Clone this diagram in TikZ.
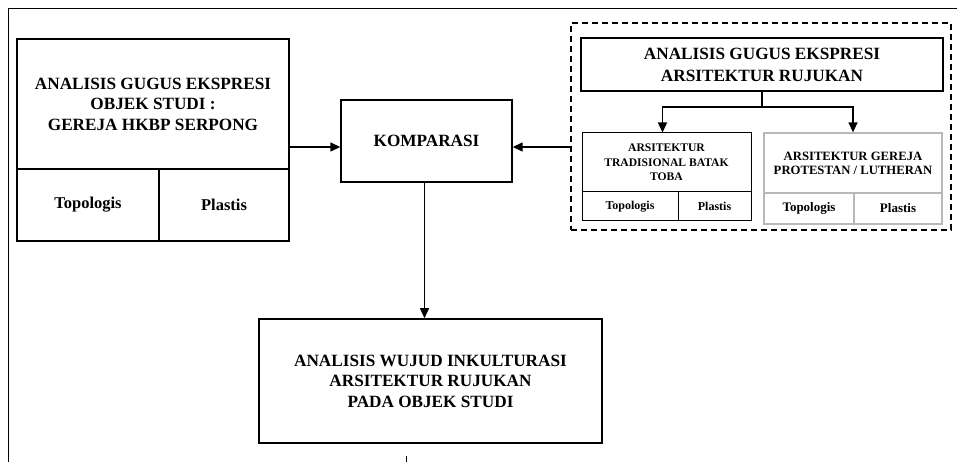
\documentclass[tikz,border=0pt]{standalone}
\usepackage{fontspec}
\setmainfont{Liberation Serif}
\usetikzlibrary{arrows.meta, positioning}

\tikzset{
	box/.style = {draw, line width = 1.6pt, inner sep = 0pt, align = center, font = \bfseries\fontsize{17.2}{20.5}\selectfont},
	cell/.style = {box, line width = 1.4pt, font = \bfseries\fontsize{16.5}{20}\selectfont},
	subcell/.style = {draw, line width = 1pt, inner sep = 0pt, align = center, font = \bfseries\fontsize{12}{14.5}\selectfont},
	grey/.style = {subcell, draw = black!28, line width = 1.3pt, font = \bfseries\fontsize{13}{14}\selectfont},
	arr/.style = {line width = 1.4pt, -{Triangle[length = 10pt, width = 9pt]}}
}

\begin{document}
\begin{tikzpicture}[x = 1pt, y = -1pt]
			\useasboundingbox (0,0) rectangle (957,462);

			% frame of the page
			\draw[line width = 1pt] (957,9) -- (8,9) -- (8,462);
			\draw[line width = 1pt] (406,456) -- (406,462);

			% objek studi
			\begin{scope}
				\node[box, minimum width = 272pt, minimum height = 130pt] (objek) at (153,104)
					{ANALISIS GUGUS EKSPRESI\\OBJEK STUDI :\\GEREJA HKBP SERPONG};
				\node[cell, minimum width = 142pt, minimum height = 72pt] (objekTop) at (88,205) {Topologis};
				\node[cell, minimum width = 130pt, minimum height = 72pt] (objekPla) at (224,205) {Plastis};
			\end{scope}

			% komparasi
			\node[box, line width = 1.4pt, minimum width = 171pt, minimum height = 82pt] (komparasi) at (426.5,141) {KOMPARASI};
			\coordinate (kin) at ([yshift = -6pt]komparasi.west);
			\coordinate (kout) at ([yshift = -6pt]komparasi.east);

			% arsitektur rujukan
			\begin{scope}
				\node[draw, dashed, dash pattern = on 6pt off 4pt, line width = 1.4pt,
					minimum width = 380pt, minimum height = 207pt] (ruj) at (761,126.5) {};
				\node[box, line width = 2.2pt, font = \bfseries\fontsize{17.2}{22}\selectfont,
					minimum width = 362pt, minimum height = 53pt] (rujHead) at (762,64.5)
					{ANALISIS GUGUS EKSPRESI\\ARSITEKTUR RUJUKAN};

				\node[subcell, minimum width = 169pt, minimum height = 59pt, font = \bfseries\fontsize{11.6}{14.5}\selectfont] (batak) at (666.5,162.5)
					{ARSITEKTUR\\TRADISIONAL BATAK\\TOBA};
				\node[subcell, minimum width = 96pt, minimum height = 29pt] (batakTop) at (630,206.5) {Topologis};
				\node[subcell, minimum width = 73pt, minimum height = 29pt] (batakPla) at (714.5,206.5) {Plastis};

				\node[grey, font = \bfseries\fontsize{12.7}{14}\selectfont, minimum width = 178pt, minimum height = 60pt] (gereja) at (853,163)
					{ARSITEKTUR GEREJA\\PROTESTAN / LUTHERAN};
				\node[grey, minimum width = 90pt, minimum height = 31pt] (gerejaTop) at (809,208.5) {Topologis};
				\node[grey, minimum width = 88pt, minimum height = 31pt] (gerejaPla) at (898,208.5) {Plastis};

				\draw[line width = 1.4pt] (rujHead.south) -- ++(0,15) coordinate (fork);
				\draw[arr] (fork) -| ([xshift = -4pt]batak.north);
				\draw[arr] (fork) -| (gereja.north);
			\end{scope}

			% hasil
			\node[box, minimum width = 343pt, minimum height = 124pt] (hasil) at (430.5,381)
				{ANALISIS WUJUD INKULTURASI\\ARSITEKTUR RUJUKAN\\PADA OBJEK STUDI};

			\draw[arr] (objek.east |- kin) -- (kin);
			\draw[arr] (ruj.west |- kout) -- (kout);
			\draw[arr] ([xshift = -2pt]komparasi.south) -- ([xshift = -2pt]komparasi.south |- hasil.north);
		\end{tikzpicture}
\end{document}
